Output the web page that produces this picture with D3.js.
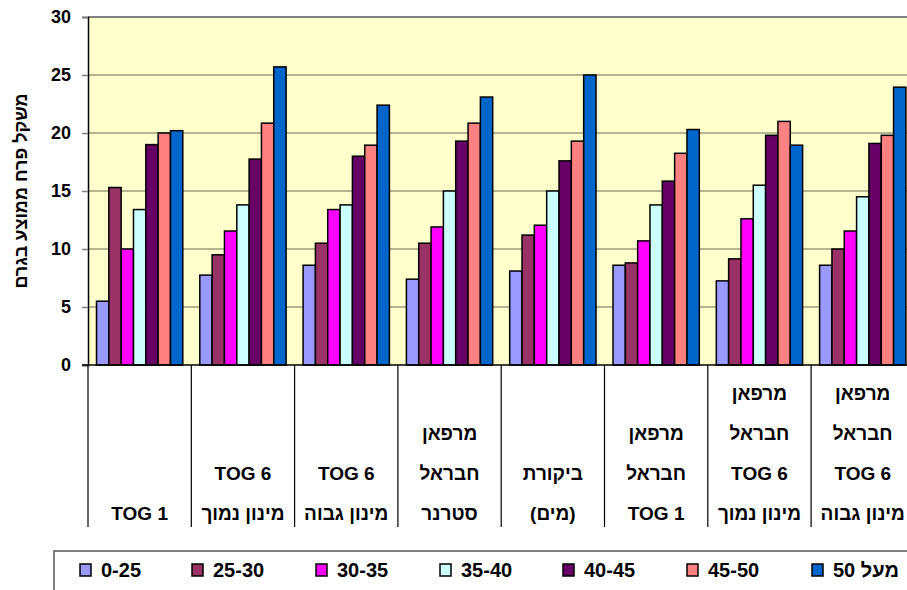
<!DOCTYPE html>
<html>
<head>
<meta charset="utf-8">
<script src="https://cdn.jsdelivr.net/npm/d3@7"></script>
<style>
  body { margin: 0; background: #fff; }
  svg { display: block; font-family: "Liberation Sans", Arial, "DejaVu Sans", sans-serif; font-weight: bold; }
</style>
</head>
<body>
<div id="chart"></div>
<script>
// categories, each is a list of label lines (top to bottom)
const categories = [
  ["TOG 1"],
  ["TOG 6", "מינון נמוך"],
  ["TOG 6", "מינון גבוה"],
  ["מרפאן", "חבראל", "סטרנר"],
  ["ביקורת", "(מים)"],
  ["מרפאן", "חבראל", "TOG 1"],
  ["מרפאן", "חבראל", "TOG 6", "מינון נמוך"],
  ["מרפאן", "חבראל", "TOG 6", "מינון גבוה"]
];
const series = ["0-25", "25-30", "30-35", "35-40", "40-45", "45-50", "מעל 50"];
const colors = ["#9999FF", "#993366", "#FF00FF", "#CCFFFF", "#660066", "#FF8080", "#0066CC"];

// values per series, one per category
const s0_25  = [5.5, 7.75, 8.6, 7.4, 8.1, 8.6, 7.25, 8.6];
const s25_30 = [15.3, 9.5, 10.5, 10.5, 11.2, 8.8, 9.15, 10.0];
const s30_35 = [10.0, 11.55, 13.4, 11.9, 12.05, 10.7, 12.6, 11.55];
const s35_40 = [13.4, 13.8, 13.8, 15.0, 15.0, 13.8, 15.5, 14.5];
const s40_45 = [19.0, 17.75, 18.0, 19.3, 17.6, 15.85, 19.8, 19.1];
const s45_50 = [20.0, 20.85, 18.95, 20.85, 19.3, 18.25, 21.0, 19.8];
const s50up  = [20.2, 25.7, 22.4, 23.1, 25.0, 20.3, 18.95, 23.95];
const values = [s0_25, s25_30, s30_35, s35_40, s40_45, s45_50, s50up];

const yTicks = [0, 5, 10, 15, 20, 25, 30];

const width = 907, height = 590;
const plotLeft = 88, plotTop = 17, plotBottom = 365;
const step = 103.3;

const svg = d3.select("#chart").append("svg")
  .attr("width", width)
  .attr("height", height);

const catIdx = d3.range(categories.length);

const x0 = d3.scaleBand()
  .domain(catIdx)
  .range([plotLeft, plotLeft + step * categories.length])
  .padding(0);

const x1 = d3.scaleBand()
  .domain(d3.range(series.length))
  .range([8.5, 94.8]);

const y = d3.scaleLinear()
  .domain([0, 30])
  .range([plotBottom, plotTop]);

// plot background
svg.append("rect")
  .attr("x", plotLeft)
  .attr("y", plotTop)
  .attr("width", x0.range()[1] - plotLeft)
  .attr("height", plotBottom - plotTop)
  .attr("fill", "#FFFFCC");

// gridlines
svg.append("g")
  .selectAll("line")
  .data(yTicks.filter(d => d > 0 && d < 30))
  .enter().append("line")
  .attr("x1", plotLeft)
  .attr("x2", x0.range()[1])
  .attr("y1", d => y(d))
  .attr("y2", d => y(d))
  .attr("stroke", "#6b6b55")
  .attr("stroke-width", 1);

// top border
svg.append("line")
  .attr("x1", plotLeft).attr("x2", x0.range()[1])
  .attr("y1", y(30)).attr("y2", y(30))
  .attr("stroke", "#808080").attr("stroke-width", 2);

// y axis
const yAxis = svg.append("g")
  .attr("transform", `translate(${plotLeft},0)`)
  .call(d3.axisLeft(y).tickValues(yTicks).tickSize(6).tickPadding(11));
yAxis.select(".domain").attr("stroke", "#000").attr("stroke-width", 1.5);
yAxis.selectAll(".tick line").attr("stroke", "#808080").attr("stroke-width", 1.5);
yAxis.selectAll(".tick text")
  .attr("font-size", 18)
  .attr("font-weight", "bold")
  .attr("font-family", "Liberation Sans, Arial, sans-serif")
  .attr("fill", "#000");

// bars
const groups = svg.append("g")
  .selectAll("g")
  .data(catIdx)
  .enter().append("g")
  .attr("transform", d => `translate(${x0(d)},0)`);

groups.selectAll("rect")
  .data(c => values.map((v, s) => ({ s: s, v: v[c] })))
  .enter().append("rect")
  .attr("x", d => x1(d.s))
  .attr("width", x1.bandwidth())
  .attr("y", d => y(d.v))
  .attr("height", d => y(0) - y(d.v))
  .attr("fill", d => colors[d.s])
  .attr("stroke", "#000")
  .attr("stroke-width", 1.5);

// x axis line
svg.append("line")
  .attr("x1", plotLeft - 6).attr("x2", x0.range()[1])
  .attr("y1", plotBottom).attr("y2", plotBottom)
  .attr("stroke", "#000").attr("stroke-width", 1.5);

// category separators
svg.append("g")
  .selectAll("line")
  .data(d3.range(categories.length + 1))
  .enter().append("line")
  .attr("x1", d => plotLeft + d * x0.step())
  .attr("x2", d => plotLeft + d * x0.step())
  .attr("y1", plotBottom)
  .attr("y2", 527)
  .attr("stroke", "#000")
  .attr("stroke-width", 1.2);

// category labels, bottom aligned
const lineGap = 40;
groups.each(function(c) {
  const lines = categories[c];
  const g = d3.select(this);
  lines.forEach((t, i) => {
    g.append("text")
      .attr("x", x0.bandwidth() / 2)
      .attr("y", 520 - (lines.length - 1 - i) * lineGap)
      .attr("text-anchor", "middle")
      .attr("font-size", 19)
      .attr("fill", "#000")
      .text(t);
  });
});

// y axis title
svg.append("text")
  .attr("transform", "translate(27,191) rotate(-90)")
  .attr("text-anchor", "middle")
  .attr("font-size", 18)
  .attr("fill", "#000")
  .text("משקל פרח ממוצע בגרם");

// legend
svg.append("rect")
  .attr("x", 54).attr("y", 551)
  .attr("width", 900).attr("height", 60)
  .attr("fill", "#fff")
  .attr("stroke", "#555").attr("stroke-width", 1.5);

const legendX = [80, 192, 316, 440, 563, 687, 812];
const legend = svg.append("g")
  .selectAll("g")
  .data(series)
  .enter().append("g")
  .attr("transform", (d, i) => `translate(${legendX[i]},564)`);

legend.append("rect")
  .attr("width", 11).attr("height", 12)
  .attr("fill", (d, i) => colors[i])
  .attr("stroke", "#000").attr("stroke-width", 1.5);

legend.append("text")
  .attr("x", 21)
  .attr("y", 13)
  .attr("font-size", 20)
  .attr("fill", "#000")
  .text(d => d);
</script>
</body>
</html>
